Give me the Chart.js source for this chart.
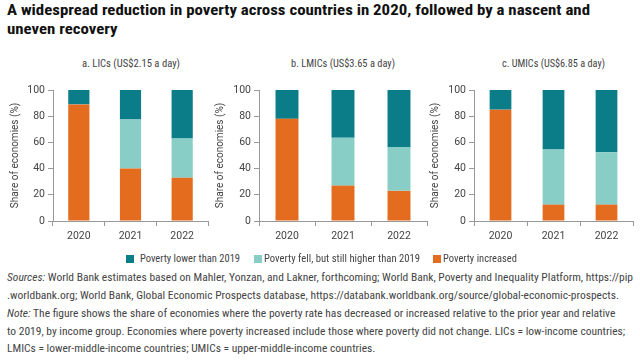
<!DOCTYPE html>
<html>
<head>
<meta charset="utf-8">
<script src="https://cdn.jsdelivr.net/npm/chart.js@4"></script>
<style>
body { margin: 0; width: 640px; height: 361px; background: #fff; position: relative; overflow: hidden;
       font-family: Roboto, "Liberation Sans", sans-serif; font-stretch: condensed; color: #444; }
.t { position: absolute; white-space: nowrap; transform-origin: 0 0; display: inline-block; }
.title { left: 7px; font-size: 15px; font-weight: bold; color: #111; }
.sub { top: 57px; font-size: 11px; color: #444; }
.box { position: absolute; top: 80px; }
.leg { top: 252px; font-size: 11px; color: #444; }
.sw { position: absolute; top: 255px; width: 8px; height: 8px; }
.note { left: 7px; font-size: 11px; color: #444; }
</style>
</head>
<body>
<div class="t title" id="t1" style="top:1px">A widespread reduction in poverty across countries in 2020, followed by a nascent and</div>
<div class="t title" id="t2" style="top:20px">uneven recovery</div>
<div class="t sub" id="s1" style="left:82px">a. LICs (US$2.15 a day)</div>
<div class="t sub" id="s2" style="left:291px">b. LMICs (US$3.65 a day)</div>
<div class="t sub" id="s3" style="left:502px">c. UMICs (US$6.85 a day)</div>
<div class="box" style="left:0px"><canvas id="c1" width="210" height="165"></canvas></div>
<div class="box" style="left:205px"><canvas id="c2" width="225" height="165"></canvas></div>
<div class="box" style="left:420px"><canvas id="c3" width="218" height="165"></canvas></div>
<div class="sw" style="left:126px;background:#0b7d88"></div>
<div class="t leg" id="l1" style="left:140px">Poverty lower than 2019</div>
<div class="sw" style="left:254px;background:#88cdc6"></div>
<div class="t leg" id="l2" style="left:264px">Poverty fell, but still higher than 2019</div>
<div class="sw" style="left:433px;background:#e46c1e"></div>
<div class="t leg" id="l3" style="left:443px">Poverty increased</div>
<div class="t note" id="n1" style="top:271px"><i>Sources:</i> World Bank estimates based on Mahler, Yonzan, and Lakner, forthcoming; World Bank, Poverty and Inequality Platform, https://pip</div>
<div class="t note" id="n2" style="top:289px">.worldbank.org; World Bank, Global Economic Prospects database, https://databank.worldbank.org/source/global-economic-prospects.</div>
<div class="t note" id="n3" style="top:307px"><i>Note:</i> The figure shows the share of economies where the poverty rate has decreased or increased relative to the prior year and relative</div>
<div class="t note" id="n4" style="top:325px">to 2019, by income group. Economies where poverty increased include those where poverty did not change. LICs = low-income countries;</div>
<div class="t note" id="n5" style="top:342px">LMICs = lower-middle-income countries; UMICs = upper-middle-income countries.</div>
<script>
var years = ['2020', '2021', '2022'];

var licIncreased = [89, 40, 33];
var licFell = [0, 37.5, 30];
var licLower = [11, 22.5, 37];

var lmicIncreased = [78, 27, 23];
var lmicFell = [0, 36.5, 33.5];
var lmicLower = [22, 36.5, 43.5];

var umicIncreased = [85, 12.5, 12.5];
var umicFell = [0, 42, 40];
var umicLower = [15, 45.5, 47.5];

var colIncreased = '#e46c1e';
var colFell = '#88cdc6';
var colLower = '#0b7d88';

var fontName = 'Roboto, "Liberation Sans", sans-serif';

// squeeze html text to the width it has in the figure
function fit(id, w) {
    var el = document.getElementById(id);
    var k = w / el.getBoundingClientRect().width;
    el.style.transform = 'scaleX(' + k + ')';
    return k;
}
var k = fit('t1', 583);
document.getElementById('t2').style.transform = 'scaleX(' + k + ')';
fit('s1', 98); fit('s2', 104); fit('s3', 103);
fit('l1', 100); fit('l2', 156); fit('l3', 74);
k = fit('n1', 626);
['n2', 'n3', 'n4', 'n5'].forEach(function (id) {
    document.getElementById(id).style.transform = 'scaleX(' + k + ')';
});

function drawPanel(id, increased, fell, lower, axisWidth, padRight) {
    var ctx = document.getElementById(id).getContext('2d');
    new Chart(ctx, {
        type: 'bar',
        data: {
            labels: years,
            datasets: [
                { label: 'Poverty increased', data: increased, backgroundColor: colIncreased },
                { label: 'Poverty fell, but still higher than 2019', data: fell, backgroundColor: colFell },
                { label: 'Poverty lower than 2019', data: lower, backgroundColor: colLower }
            ]
        },
        options: {
            responsive: false,
            animation: false,
            layout: { padding: { top: 10, right: padRight, left: 0, bottom: 0 } },
            plugins: { legend: { display: false }, tooltip: { enabled: false } },
            datasets: { bar: { categoryPercentage: 1, barPercentage: 0.41 } },
            scales: {
                x: {
                    stacked: true,
                    grid: { offset: true, drawOnChartArea: false, tickLength: 5, color: '#999' },
                    border: { color: '#999' },
                    ticks: { color: '#444', font: { family: fontName, size: 10.5 }, padding: 4 },
                    afterFit: function (s) { s.height = 24; }
                },
                y: {
                    stacked: true,
                    min: 0,
                    max: 100,
                    grid: { drawOnChartArea: false, tickLength: 5, color: '#999' },
                    border: { color: '#999' },
                    ticks: { stepSize: 20, color: '#444', font: { family: fontName, size: 10.5 }, padding: 3 },
                    title: { display: true, text: 'Share of economies (%)', color: '#444',
                             font: { family: fontName, size: 10 }, padding: { top: 9, bottom: 2 } },
                    afterFit: function (s) { s.width = axisWidth; }
                }
            }
        }
    });
}

drawPanel('c1', licIncreased, licFell, licLower, 53, 2);
drawPanel('c2', lmicIncreased, lmicFell, lmicLower, 54, 3);
drawPanel('c3', umicIncreased, umicFell, umicLower, 54, 5);
</script>
</body>
</html>
